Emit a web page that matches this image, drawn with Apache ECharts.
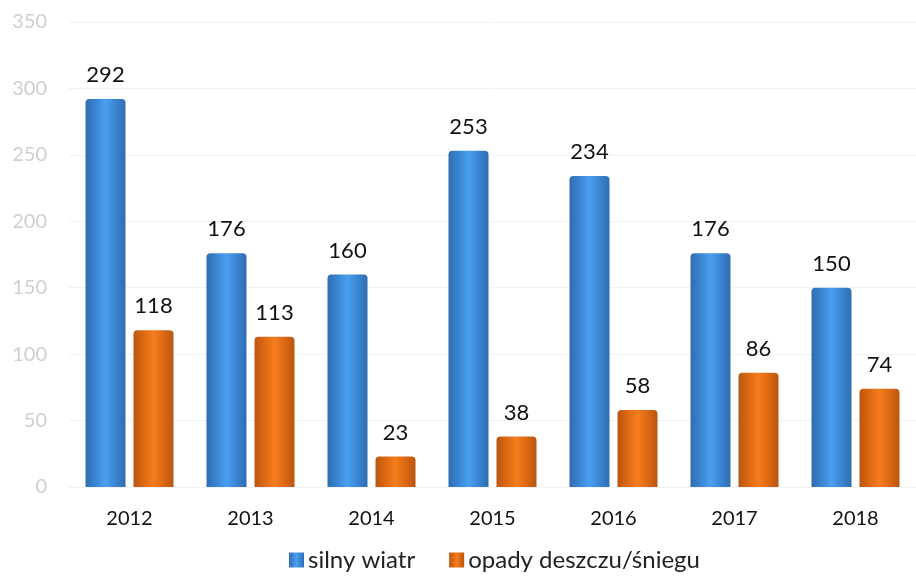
<!DOCTYPE html>
<html>
    <head>
        <meta charset="utf-8"/>
        <script src="https://cdn.jsdelivr.net/npm/echarts@6.0.0/dist/echarts.min.js"></script>
        <style>
            body { margin: 0; background: #fff; }
        </style>
    </head>
	<body>
        <div id="main" style="width: 916px;height: 576px;"></div>
		<script>
			// dane
			var years = ['2012', '2013', '2014', '2015', '2016', '2017', '2018'];
			var silnyWiatr = [292, 176, 160, 253, 234, 176, 150];
			var opady = [118, 113, 23, 38, 58, 86, 74];
			var seriesNames = ['silny wiatr', 'opady deszczu/śniegu'];

			var FONT = 'Lato';

			function barGrad(edge, mid, light) {
			  return new echarts.graphic.LinearGradient(0, 0, 1, 0, [
				{ offset: 0, color: edge },
				{ offset: 0.3, color: mid },
				{ offset: 0.5, color: light },
				{ offset: 0.7, color: mid },
				{ offset: 1, color: edge }
			  ]);
			}

			var myChart = echarts.init(document.getElementById('main'));
			myChart.setOption({
			  animation: false,
			  grid: { left: 69, right: -16, top: 22, bottom: 89, containLabel: false },
			  legend: {
				top: 543,
				left: 284,
				itemWidth: 15,
				itemHeight: 15,
				itemGap: 34,
				icon: 'rect',
				textStyle: { fontFamily: FONT, fontSize: 24, color: '#222', padding: [0, 0, 0, -1] },
				data: seriesNames
			  },
			  xAxis: {
				type: 'category',
				data: years,
				axisLine: { show: false },
				axisTick: { show: false },
				axisLabel: { fontFamily: FONT, fontSize: 20, color: '#111', margin: 22 }
			  },
			  yAxis: {
				type: 'value',
				min: 0,
				max: 350,
				interval: 50,
				axisLabel: { fontFamily: FONT, fontSize: 20, color: '#cfcfcf', margin: 22 },
				splitLine: { lineStyle: { color: '#f2f2f2', width: 1 } }
			  },
			  series: [
				{
				  name: seriesNames[0],
				  type: 'bar',
				  data: silnyWiatr,
				  barWidth: 40,
				  barGap: '20%',
				  itemStyle: {
					color: barGrad('#2f6db0', '#3d8ad8', '#4c9ff0'),
					borderRadius: [4, 4, 0, 0]
				  },
				  label: { show: true, position: 'top', distance: 13, fontFamily: FONT, fontSize: 22, color: '#111' }
				},
				{
				  name: seriesNames[1],
				  type: 'bar',
				  data: opady,
				  barWidth: 40,
				  itemStyle: {
					color: barGrad('#b9560f', '#e36c14', '#f47d20'),
					borderRadius: [4, 4, 0, 0]
				  },
				  label: { show: true, position: 'top', distance: 13, fontFamily: FONT, fontSize: 22, color: '#111' }
				}
			  ]
			});
		</script>
  </body>
</html>
